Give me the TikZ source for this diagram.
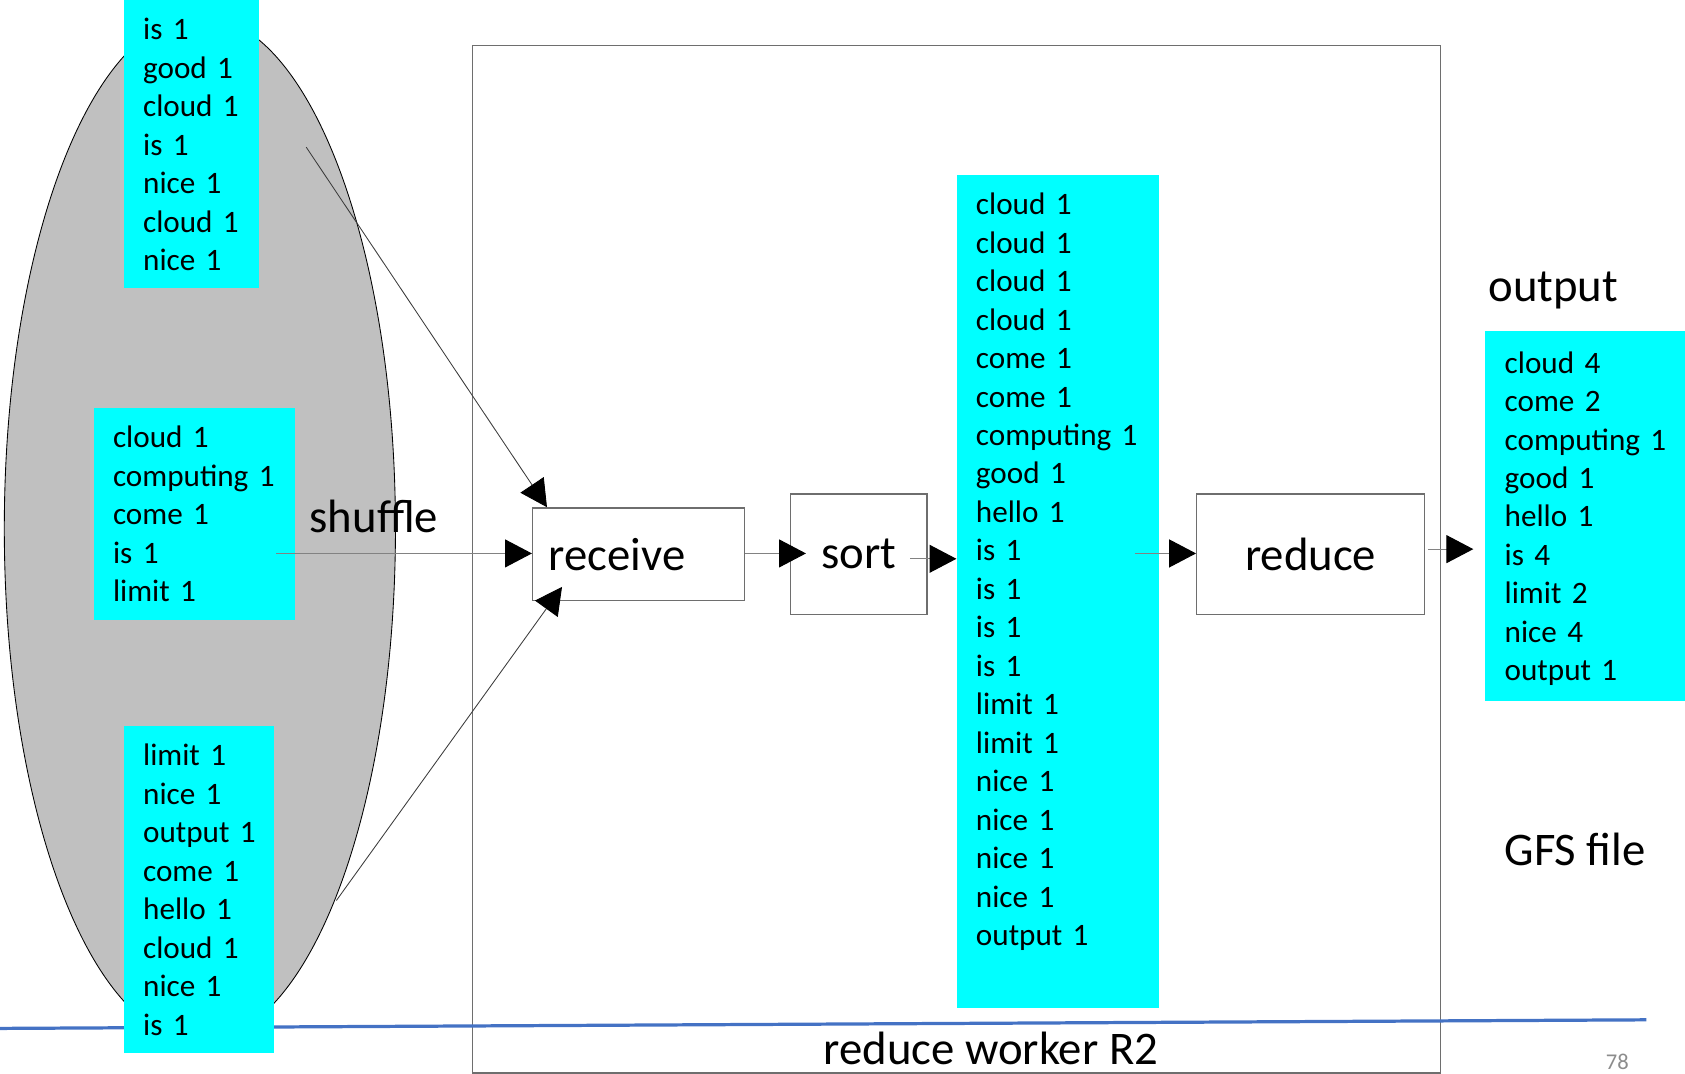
\documentclass[tikz,border=0pt]{standalone}
\usepackage{fontspec}
\setmainfont{Carlito}
\usetikzlibrary{shapes.geometric,arrows.meta}

\definecolor{listcyan}{RGB}{0,255,255}
\definecolor{groupgray}{RGB}{192,192,192}
\definecolor{framegray}{RGB}{110,110,110}
\definecolor{linegray}{RGB}{130,130,130}
\definecolor{diaggray}{RGB}{60,60,60}
\definecolor{slideblue}{RGB}{68,114,196}
\definecolor{pagegray}{RGB}{140,140,140}

% one column of key/count pairs, indented from the box's left edge
\newenvironment{pairlist}{\begin{tabular}{@{\hspace{18pt}}l@{}}\noalign{\vskip 6pt}}{\end{tabular}}

\tikzset{
  listbox/.style={fill=listcyan, anchor=north west, inner sep=0pt,
    align=left, font=\fontsize{29}{35.8}\selectfont},
  stagebox/.style={draw=framegray, line width=1.2pt, inner sep=0pt, anchor=north west,
    font=\fontsize{43.5}{52}\selectfont},
  biglabel/.style={font=\fontsize{43.5}{52}\selectfont, inner sep=0pt},
  tip/.style={-{Triangle[length=25pt,width=26pt,color=black]}},
  flow/.style={draw=linegray, line width=1pt, tip},
  diagflow/.style={draw=diaggray, line width=0.8pt, tip},
}

\begin{document}
\begin{tikzpicture}[x=1pt,y=-1pt]
\useasboundingbox (0,0) rectangle (1568,999);

% map-side group of partitions
\node[ellipse, draw=black, line width=0.8pt, fill=groupgray, inner sep=0pt,
      minimum width=364pt, minimum height=954pt] (group) at (186,492) {};

% reduce worker frame
\node[draw=framegray, line width=1.2pt, inner sep=0pt, anchor=north west,
      minimum width=901pt, minimum height=956pt] (worker) at (439,42) {};
\node[biglabel] (workerlabel) at (922,976) {reduce worker R2};

% slide rule and page number
\coordinate (ruleL) at (0,957);
\coordinate (ruleR) at (1532,949);
\draw[slideblue, line width=3pt] (ruleL) -- (ruleR);
\node[font=\fontsize{21}{24}\selectfont, text=pagegray, inner sep=0pt] (page) at (1505,988) {78};

% incoming partitions
\node[listbox, text width=126pt, minimum height=268pt] (partA) at (115,0)
  {\begin{pairlist}is 1\\good 1\\cloud 1\\is 1\\nice 1\\cloud 1\\nice 1\end{pairlist}};
\node[listbox, text width=187pt, minimum height=198pt] (partB) at (87,379)
  {\begin{pairlist}cloud 1\\computing 1\\come 1\\is 1\\limit 1\end{pairlist}};
\node[listbox, text width=140pt, minimum height=305pt] (partC) at (115,675)
  {\begin{pairlist}limit 1\\nice 1\\output 1\\come 1\\hello 1\\cloud 1\\nice 1\\is 1\end{pairlist}};

\node[biglabel, anchor=west] (shuffle) at (288,481) {shuffle};

% processing stages
\node[stagebox, minimum width=197pt, minimum height=86pt, text width=167pt,
      inner xsep=15pt, align=left] (receive) at (495,472) {receive};
\node[stagebox, minimum width=127pt, minimum height=112pt] (sort) at (735,459) {sort};
\node[stagebox, minimum width=212pt, minimum height=112pt] (reduce) at (1113,459) {reduce};

% sorted pairs
\node[listbox, text width=188pt, minimum height=775pt] (sorted) at (890,163)
  {\begin{pairlist}cloud 1\\cloud 1\\cloud 1\\cloud 1\\come 1\\come 1\\computing 1\\good 1\\hello 1\\is 1\\is 1\\is 1\\is 1\\limit 1\\limit 1\\nice 1\\nice 1\\nice 1\\nice 1\\output 1\\[42pt]\end{pairlist}};

% output file
\node[biglabel, anchor=west] (outlabel) at (1385,270) {output};
\node[listbox, text width=186pt, minimum height=344pt] (result) at (1382,308)
  {\begin{pairlist}cloud 4\\come 2\\computing 1\\good 1\\hello 1\\is 4\\limit 2\\nice 4\\output 1\end{pairlist}};
\node[biglabel, anchor=west] (gfs) at (1400,790) {GFS file};

% connectors
\coordinate (fromA) at (285,137);
\coordinate (fromB) at (257,515);
\coordinate (fromC) at (313,838);
\coordinate (fromSort) at (847,520);
\coordinate (fromSorted) at (1056,515);
\coordinate (fromReduce) at (1329,511);

\draw[diagflow] (fromA) -- ([xshift=14pt]receive.north west);
\draw[flow] (fromB) -- (fromB -| receive.west);
\draw[diagflow] (fromC) -- ([xshift=28pt,yshift=13pt]receive.south west);
\draw[flow] (fromB -| receive.east) -- ([xshift=15pt]fromB -| sort.west);
\draw[flow] (fromSort) -- (fromSort -| sorted.west);
\draw[flow] (fromSorted) -- (fromSorted -| reduce.west);
\draw[flow] (fromReduce) -- ([xshift=-11pt]fromReduce -| result.west);
\end{tikzpicture}
\end{document}
